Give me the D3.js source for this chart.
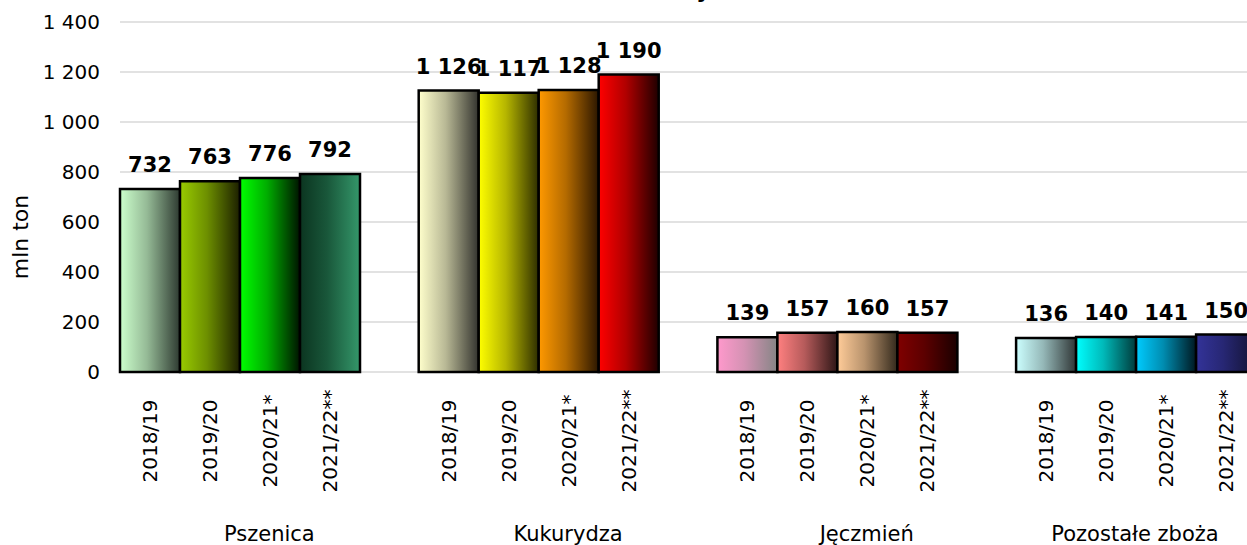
<!DOCTYPE html>
<html>
 <head>
   <meta charset="UTF-8">
   <title>Zbiory zbóż</title>
<script src="https://d3js.org/d3.v7.min.js"></script>
<style>
body{
  margin: 0;
  background: #ffffff;
}
svg{
  display: block;
  font-family: "DejaVu Sans", Verdana, sans-serif;
}
</style>
 </head>
<body>
<div class="chart" id="chart"></div>

<script>
//Data (mln ton)
var categories = ["Pszenica", "Kukurydza", "Jęczmień", "Pozostałe zboża"];
var seasons = ["2018/19", "2019/20", "2020/21*", "2021/22**"];

var pszenica  = [732, 763, 776, 792];
var kukurydza = [1126, 1117, 1128, 1190];
var jeczmien  = [139, 157, 160, 157];
var pozostale = [136, 140, 141, 150];

var yTicks = [0, 200, 400, 600, 800, 1000, 1200, 1400];

var title = "Światowe zbiory zbóż";
var yTitle = "mln ton";

//Gradient per bar: [left colour, right colour]
var colors = [
  [["#ccffcc", "#2e3a31"], ["#99cc00", "#1c1f00"], ["#00ff00", "#001400"], ["#0b3520", "#34976a"]],
  [["#ffffcc", "#33332e"], ["#ffff00", "#2e2e00"], ["#ff9900", "#2b1600"], ["#ff0000", "#1f0000"]],
  [["#ff99cc", "#858585"], ["#ff8080", "#2e1616"], ["#ffcc99", "#33291c"], ["#800000", "#1a0000"]],
  [["#ccffff", "#2f3535"], ["#00ffff", "#003a3a"], ["#00ccff", "#001820"], ["#333399", "#121230"]]
];

var values = [pszenica, kukurydza, jeczmien, pozostale];

//SVG size
var W = 1247;
var H = 545;

//Plot area
var left = 120;
var top0 = 22;
var bottom = 372;
var groupW = 298.7;
var barsW = 240;

var fmt = d3.formatLocale({decimal: ",", thousands: " ", grouping: [3], currency: ["", " zł"]}).format(",d");

var y = d3.scaleLinear().domain([0, 1400]).range([bottom, top0]);
var x0 = d3.scaleBand().domain(categories).range([left, left + groupW * categories.length]);
var x1 = d3.scaleBand().domain(seasons).range([0, barsW]);

var svg = d3.select("#chart")
  .append("svg")
  .attr("width", W)
  .attr("height", H);

var defs = svg.append("defs");

//flatten data into bars
var data = [];
categories.forEach(function(c, i) {
  seasons.forEach(function(s, j) {
    data.push({cat: c, season: s, value: values[i][j], col: colors[i][j], id: "g" + i + "_" + j});
  });
});

data.forEach(function(d) {
  var g = defs.append("linearGradient")
    .attr("id", d.id)
    .attr("x1", 0).attr("x2", 1).attr("y1", 0).attr("y2", 0);
  g.append("stop").attr("offset", "0%").attr("stop-color", d.col[0]);
  g.append("stop").attr("offset", "45%").attr("stop-color", d3.interpolateRgb(d.col[0], d.col[1])(0.35));
  g.append("stop").attr("offset", "100%").attr("stop-color", d.col[1]);
});

//title (sits mostly above the visible area)
svg.append("text")
  .attr("x", 641)
  .attr("y", -2)
  .attr("text-anchor", "middle")
  .style("font-size", "22px")
  .style("font-weight", "bold")
  .text(title);

//gridlines
svg.selectAll(".grid")
  .data(yTicks)
  .enter()
  .append("line")
  .attr("class", "grid")
  .attr("x1", left)
  .attr("x2", W)
  .attr("y1", function(d){ return y(d); })
  .attr("y2", function(d){ return y(d); })
  .attr("stroke", "#d9d9d9")
  .attr("stroke-width", 1.3);

//y axis labels
svg.selectAll(".ytick")
  .data(yTicks)
  .enter()
  .append("text")
  .attr("class", "ytick")
  .attr("x", 100)
  .attr("y", function(d){ return y(d); })
  .attr("dy", "0.36em")
  .attr("text-anchor", "end")
  .style("font-size", "20px")
  .text(function(d){ return fmt(d); });

svg.append("text")
  .attr("transform", "translate(28,237) rotate(-90)")
  .attr("text-anchor", "middle")
  .style("font-size", "22px")
  .text(yTitle);

//bars
svg.selectAll(".bar")
  .data(data)
  .enter()
  .append("rect")
  .attr("class", "bar")
  .attr("x", function(d){ return x0(d.cat) + x1(d.season); })
  .attr("y", function(d){ return y(d.value); })
  .attr("width", x1.bandwidth())
  .attr("height", function(d){ return y(0) - y(d.value); })
  .style("fill", function(d){ return "url(#" + d.id + ")"; })
  .attr("stroke", "#000")
  .attr("stroke-width", 2.5);

//value labels
svg.selectAll(".val")
  .data(data)
  .enter()
  .append("text")
  .attr("class", "val")
  .attr("x", function(d){ return x0(d.cat) + x1(d.season) + x1.bandwidth() / 2; })
  .attr("y", function(d){ return y(d.value) - 17; })
  .attr("text-anchor", "middle")
  .style("font-size", "21px")
  .style("font-weight", "bold")
  .text(function(d){ return fmt(d.value); });

//season labels (rotated)
svg.selectAll(".season")
  .data(data)
  .enter()
  .append("text")
  .attr("class", "season")
  .attr("transform", function(d){
    var cx = x0(d.cat) + x1(d.season) + x1.bandwidth() / 2 + 7;
    return "translate(" + cx + ",441) rotate(-90)";
  })
  .attr("text-anchor", "middle")
  .style("font-size", "20px")
  .text(function(d){ return d.season; });

//category labels, kept inside the picture
svg.selectAll(".cat")
  .data(categories)
  .enter()
  .append("text")
  .attr("class", "cat")
  .attr("x", function(d){
    var cx = x0(d) + x0.bandwidth() / 2;
    return Math.min(cx, W - 112);
  })
  .attr("y", 541)
  .attr("text-anchor", "middle")
  .style("font-size", "21px")
  .text(function(d){ return d; });
</script>
</body>
</html>
